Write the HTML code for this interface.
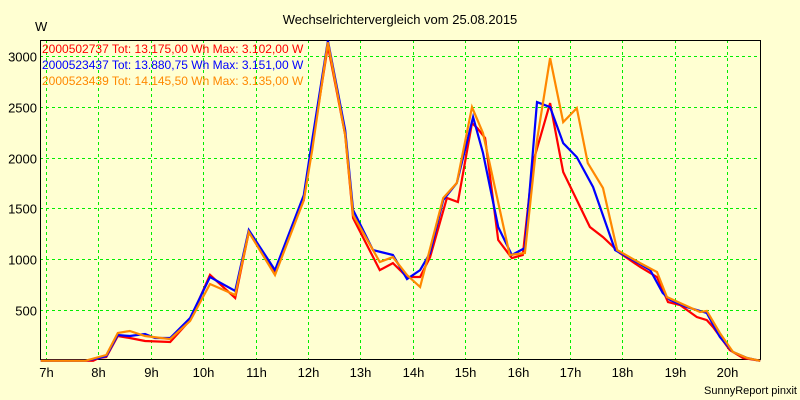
<!DOCTYPE html>
<html><head><meta charset="utf-8"><style>
html,body{margin:0;padding:0;background:#ffffd2;}
svg{display:block;font-family:"Liberation Sans",sans-serif;}
</style></head><body>
<svg id="chart" width="800" height="400" viewBox="0 0 800 400" xmlns="http://www.w3.org/2000/svg">
<rect x="0" y="0" width="800" height="400" fill="#ffffd2"/>
<text x="400" y="24" text-anchor="middle" font-size="13" fill="#000">Wechselrichtervergleich vom 25.08.2015</text>
<text x="35" y="31" font-size="13" fill="#000">W</text>
<text x="797" y="394" text-anchor="end" font-size="11" fill="#000">SunnyReport pinxit</text>
<g id="grid"></g>
<g id="axes"></g>
<g id="series"></g>
<g id="legend"></g>
</svg>
<script>
const yTicks = [500, 1000, 1500, 2000, 2500, 3000];
const xTicks = [7, 8, 9, 10, 11, 12, 13, 14, 15, 16, 17, 18, 19, 20];
const xTickLabels = ["7h","8h","9h","10h","11h","12h","13h","14h","15h","16h","17h","18h","19h","20h"];
const seriesNames = ["2000502737 Tot: 13.175,00 Wh Max: 3.102,00 W","2000523437 Tot: 13.880,75 Wh Max: 3.151,00 W","2000523439 Tot: 14.145,50 Wh Max: 3.135,00 W"];
const seriesColors = ["#ff0000","#0000ff","#ff8800"];
const redT = [6.9,7.9,8.01,8.15,8.37,8.60,8.89,9.37,9.75,10.13,10.61,10.87,11.37,11.92,12.08,12.38,12.71,12.86,13.37,13.62,13.89,14.14,14.33,14.65,14.86,15.13,15.23,15.38,15.63,15.89,16.10,16.29,16.62,16.87,17.38,17.63,17.95,18.34,18.66,18.87,19.10,19.42,19.61,19.73,20.05,20.30,20.63];
const redV = [0,0,28,37,244,224,195,185,401,845,618,1267,873,1582,2123,3098,2222,1405,893,962,825,825,1021,1602,1563,2340,2290,2192,1189,1011,1041,1946,2536,1858,1317,1218,1061,923,824,578,549,431,401,332,106,28,0];
const blueT = [6.9,7.74,8.01,8.15,8.37,8.60,8.89,9.08,9.37,9.75,10.13,10.61,10.87,11.37,11.92,12.08,12.38,12.71,12.86,13.24,13.62,13.89,14.14,14.33,14.58,14.84,15.15,15.34,15.63,15.89,16.14,16.37,16.62,16.87,17.13,17.44,17.86,18.20,18.53,18.77,18.91,19.23,19.61,19.86,20.11,20.38,20.63];
const blueV = [0,0,28,47,254,244,264,224,224,421,825,687,1287,893,1631,2172,3151,2271,1484,1090,1041,805,893,1061,1582,1750,2399,2045,1317,1041,1110,2546,2497,2143,2005,1710,1090,992,893,667,598,529,470,234,87,28,0];
const orangeT = [6.9,7.75,8.01,8.15,8.37,8.60,8.89,9.37,9.75,10.13,10.61,10.87,11.37,11.92,12.08,12.38,12.71,12.86,13.37,13.62,13.89,14.14,14.58,14.84,15.13,15.34,15.85,16.14,16.37,16.62,16.87,17.13,17.34,17.63,17.90,18.34,18.66,18.85,19.48,19.61,19.86,20.11,20.38,20.63];
const orangeV = [0,0,37,57,274,293,244,214,392,756,648,1267,844,1582,2074,3135,2222,1435,972,1021,844,726,1602,1750,2497,2241,1041,1061,2172,2979,2349,2487,1946,1700,1090,962,874,628,480,490,273,87,28,0];

const NS = "http://www.w3.org/2000/svg";
const L = 40, R = 760, T = 40, B = 359;
function xs(t){ return 46 + (t - 7) * 52.4; }
function ys(v){ return 360.8 - v * 0.1016; }
function mk(tag, attrs, parent){ const e = document.createElementNS(NS, tag); for (const k in attrs) e.setAttribute(k, attrs[k]); parent.appendChild(e); return e; }

const grid = document.getElementById('grid');
const axes = document.getElementById('axes');
yTicks.forEach(v => {
  const y = Math.round(ys(v)) + 0.5;
  const g = mk('line', {x1:L, x2:R, y1:y, y2:y, stroke:'#00ee00', 'stroke-dasharray':'3,3', 'stroke-width':1}, grid);
  
  
  const tx = mk('text', {x:37, y:y+5, 'text-anchor':'end', 'font-size':13, fill:'#000'}, axes);
  tx.textContent = String(v);
  
  
});
xTicks.forEach((t, i) => {
  const x = Math.round(xs(t)) + 0.5;
  const g = mk('line', {x1:x, x2:x, y1:T, y2:B, stroke:'#00ee00', 'stroke-dasharray':'3,3', 'stroke-width':1}, grid);
  
  
  const tx = mk('text', {x:x, y:377, 'text-anchor':'middle', 'font-size':13, fill:'#000'}, axes);
  tx.textContent = xTickLabels[i];
  
  
});
const frame = mk('rect', {x:L+0.5, y:T+0.5, width:R-L, height:B-T, fill:'none', stroke:'#000', 'stroke-width':1}, axes);



const seriesG = document.getElementById('series');
const allT = [redT, blueT, orangeT];
const allV = [redV, blueV, orangeV];
const seriesIds = ['series-red-2000502737','series-blue-2000523437','series-orange-2000523439'];
allT.forEach((ts, si) => {
  const pts = ts.map((t, i) => xs(Math.max(t, 6.886)).toFixed(1) + ',' + ys(allV[si][i]).toFixed(1)).join(' ');
  const p = mk('polyline', {points:pts, fill:'none', stroke:seriesColors[si], 'stroke-width':2.2, 'stroke-linejoin':'miter'}, seriesG);
  
  
});

const legend = document.getElementById('legend');
seriesNames.forEach((n, i) => {
  const tx = mk('text', {x:42, y:53 + i*16, 'font-size':12, fill:seriesColors[i]}, legend);
  tx.textContent = n;
  
  
});
</script>
</body></html>
